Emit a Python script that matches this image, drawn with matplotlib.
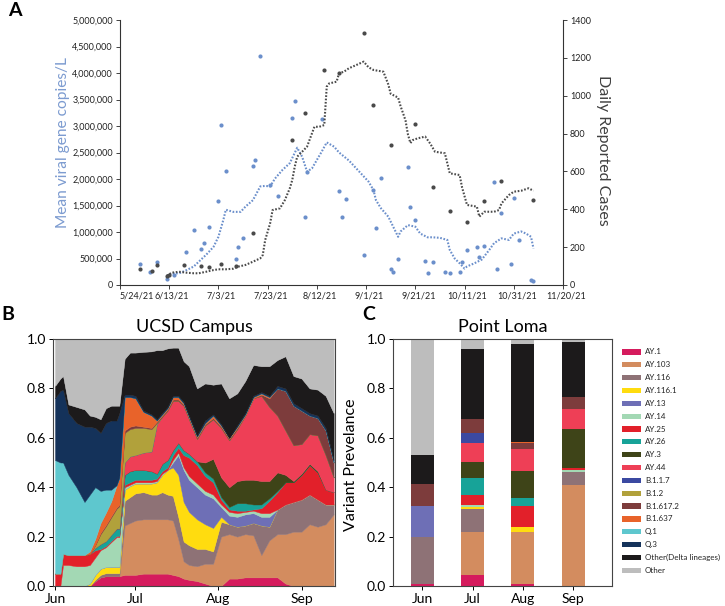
import numpy as np
import pandas as pd
import matplotlib
matplotlib.use('Agg')
import matplotlib.pyplot as plt
import matplotlib.transforms as mtrans
from matplotlib.patches import Rectangle
from matplotlib.ticker import FuncFormatter

plt.rcParams['font.family'] = ['Lato', 'DejaVu Sans']

# ---------------- Panel A data (days since 5/24/21) ----------------
start_a = pd.Timestamp('2021-05-24')

ww_days = [8, 12, 15, 19, 22, 27, 30, 33, 34, 36, 40, 41, 43, 47, 48, 50, 54, 55, 57, 61,
           64, 70, 71, 75, 76, 82, 89, 90, 92, 99, 103, 104, 106, 110, 111, 113, 117, 118,
           120, 124, 125, 127, 132, 134, 138, 139, 141, 145, 146, 148, 152, 153, 155, 159,
           160, 162, 167, 168]
ww_copies = [0.40, 0.25, 0.44, 0.11, 0.18, 0.62, 1.04, 0.68, 0.79, 1.09, 1.59, 3.01, 2.16,
             0.50, 0.72, 0.89, 2.25, 2.35, 4.33, 1.89, 1.67, 3.16, 3.48, 1.28, 2.14, 3.14,
             1.77, 1.28, 1.62, 0.57, 1.79, 1.07, 2.01, 0.31, 0.24, 0.50, 2.23, 1.48, 1.23,
             0.45, 0.22, 0.44, 0.25, 0.22, 0.25, 0.43, 0.66, 0.71, 0.53, 0.74, 1.94, 0.31,
             1.36, 0.39, 1.64, 0.85, 0.09, 0.08]  # millions

ww_avg_days = [19, 21, 24, 27, 30, 32, 35, 38, 40, 42, 43, 46, 49, 51, 54, 57, 59, 61, 63,
               66, 69, 72, 74, 76, 78, 80, 82, 84, 87, 89, 93, 97, 101, 103, 104, 106, 109,
               111, 113, 114, 117, 120, 122, 125, 127, 130, 133, 134, 136, 138, 140, 141,
               144, 147, 150, 152, 155, 158, 160, 163, 165, 167, 168]
ww_avg = [0.17, 0.22, 0.22, 0.28, 0.35, 0.44, 0.57, 0.72, 0.91, 1.23, 1.42, 1.38, 1.38, 1.48,
          1.60, 1.86, 1.87, 1.86, 2.01, 2.17, 2.30, 2.59, 2.42, 2.14, 2.20, 2.36, 2.52, 2.69,
          2.61, 2.50, 2.35, 2.15, 1.95, 1.79, 1.60, 1.45, 1.29, 1.10, 0.91, 1.01, 1.13, 1.10,
          0.97, 0.90, 0.90, 0.89, 0.85, 0.66, 0.50, 0.41, 0.31, 0.35, 0.41, 0.48, 0.66, 0.79,
          0.88, 0.85, 0.97, 1.01, 0.97, 0.91, 0.69]  # millions

case_days = [8, 13, 15, 19, 20, 26, 33, 36, 41, 47, 54, 70, 75, 83, 89, 99, 103, 110, 120,
             127, 134, 141, 148, 155, 168]
cases = [86, 72, 106, 48, 51, 106, 102, 97, 111, 102, 273, 766, 910, 1136, 1118, 1330, 951,
         738, 851, 516, 389, 333, 442, 549, 447]

case_avg_days = [19, 21, 24, 27, 30, 32, 35, 38, 40, 43, 46, 48, 51, 54, 57, 58, 59, 61, 62,
                 65, 67, 69, 70, 71, 72, 74, 76, 78, 79, 81, 83, 84, 85, 88, 89, 91, 93, 96,
                 99, 101, 103, 107, 109, 110, 113, 114, 116, 117, 118, 119, 121, 124, 126,
                 128, 132, 134, 138, 139, 141, 145, 146, 148, 152, 154, 155, 158, 160, 163,
                 166, 168]
case_avg = [48, 65, 70, 65, 62, 62, 70, 79, 83, 83, 86, 97, 106, 123, 141, 158, 238, 326, 396,
            405, 449, 511, 555, 625, 678, 704, 731, 801, 836, 836, 845, 1048, 1065, 1074, 1118,
            1127, 1145, 1162, 1180, 1150, 1136, 1127, 1060, 1010, 990, 945, 870, 795, 750, 766,
            775, 784, 748, 704, 696, 590, 581, 515, 423, 414, 361, 387, 387, 396, 431, 475, 493,
            498, 511, 498]

# ---------------- Panel B data (days since 6/1/21) ----------------
b_days = [0, 2, 3, 5, 8, 11, 13, 15, 17, 19, 21, 23, 24, 26, 28, 30, 33, 36, 38, 40, 42, 44,
          46, 48, 50, 53, 56, 59, 62, 65, 68, 71, 74, 77, 80, 83, 86, 89, 92, 95, 98, 101, 104]

b_ay1 = [0, 0, 0, 0, 0, 0, 0, .02, .035, .04, .04, .04, .04, .045, .045, .045, .05, .05, .05,
         .05, .05, .045, .04, .03, .025, .02, .01, 0, 0, .03, .03, .035, .035, .035, .035, .035,
         .01, 0, 0, 0, 0, 0, 0]
b_ay103 = [0] * 13 + [.2, .21, .22, .22, .22, .22, .22, .22, .22, .15, .07, .06, .06, .08, .09,
                      .20, .18, .17, .175, .17, .09, .15, .175, .2, .22, .22, .25, .24, .25, .29]
b_ay116 = [0] * 7 + [.005, .01, .012, .012, .012, .012, .1, .105, .11, .11, .1, .1, .11, .1, .1,
                     .09, .08, .08, .07, .06, .05, .06, .04, .04, .035, .05, .12, .055, .10, .12,
                     .12, .13, .12, .11, .08, .04]
b_ay116_1 = [0] * 6 + [.01, .02, .025, .025, .026, .026, .026, .045, .045, .04, .035, .045, .05,
                       .07, .1, .115, .17, .16, .135, .12, .1, .095, .02] + [0] * 14
b_ay13 = [0] * 21 + [.02, .08, .13, .13, .13, .12, .12, .04, .035, .04, .045, .04, .035,
                     .04] + [0] * 8
b_ay14 = [0, 0, .085, .085, .08, .08, .075, .07, .075, .08, .1, .12, .12, .01, .005, .005, .005,
          .005, .005, .005, 0, .01, .01, .01, .015, .015, .015, .015, .01, .015, .015, .01, .01,
          .015, .015] + [0] * 8
b_ay25 = [.05, .05, .045, .04, .045, .045, .045, .03, .005, .005, .005, .005, .005, .01, .01,
          .01, .01, .01, .01, .01, .01, .02, .02, .05, .075, .075, .06, .05, .02, .01, .01, .005,
          .005, .02, .05, .07, .09, .08, .1, .12, .11, .06, .05]
b_ay26 = [0] * 7 + [.01, .02, .02, .025, .03, .03, .04, .045, .04, .04, .035, .02, .03, .03, .02,
                    .02, .02, .015, .015, .015, .015, .01, .01, .03, .03, .02, .015, .01,
                    .005] + [0] * 7
b_ay3 = [0] * 26 + [.04, .08, .08, .08, .09, .095, .1, .095, .07, .075, .03, .005, .005, .005,
                    .005, 0, 0]
b_ay44 = [0] * 13 + [.05, .06, .06, .07, .08, .2, .19, .2, .2, .17, .18, .14, .09, .15, .16, .2,
                     .19, .21, .26, .33, .345, .3, .23, .18, .145, .12, .12, .145, .14, .06]
b_b117 = [0] * 43
b_b12 = [0] * 7 + [.01, .04, .06, .07, .08, .09, .12, .11, .11, .1, .09, .005] + [0] * 24
b_b16172 = [0] * 8 + [.005, .005, .005, .005, .005, .01, .01, .01, .005, .005, .005, .005, .005,
                      .005, .005, .005, .005, .005, .005, .005, .005, .005, .005, 0, 0, .005,
                      .035, .11, .16, .16, .135, .075, .07, .10, .06]
b_b1637 = [0] * 6 + [.01, .025, .04, .05, .06, .09, .11, .135, .12, .11, .06, .05, .005, .005,
                     .005, .01, .01, .005, .005, .005, .005, .01, .005, .005, .005, .005, .005,
                     .005, .005] + [0] * 8
b_q1 = [.46, .45, .37, .325, .275, .215, .23, .21, .13, .093, .047, 0] + [0] * 31
b_q3 = [.25, .29, .295, .25, .26, .305, .275, .24, .235, .27, .28, .262, .262, .01, .01, .01,
        .005, .005, .005, .005, .005, .005, .005, .005, .005, .005, .01, .005, .005, 0, .005,
        .005, .005, .005, .005, .01, .01, .01, .01, .01, .01, .01, .01]
b_delta_other = [.05, .05, .055, .035, .065, .07, .045, .045, .055, .06, .06, .06, .03, .145,
                 .17, .175, .238, .255, .28, .255, .237, .195, .195, .165, .20, .19, .15, .12,
                 .165, .16, .13, .13, .125, .105, .12, .105, .13, .11, .12, .10, .105, .13, .19]

# ---------------- Panel C data (monthly prevalence, Point Loma) ----------------
c_months = ['Jun', 'Jul', 'Aug', 'Sep']
c_ay1 = [.01, .045, .01, 0]
c_ay103 = [0, .172, .209, .41]
c_ay116 = [.19, .093, 0, .051]
c_ay116_1 = [0, .008, .018, 0]
c_ay13 = [.125, 0, 0, 0]
c_ay14 = [0, .01, 0, .007]
c_ay25 = [0, .041, .088, .01]
c_ay26 = [0, .067, .033, 0]
c_ay3 = [0, .066, .108, .158]
c_ay44 = [0, .076, .087, .082]
c_b117 = [0, .042, 0, 0]
c_b12 = [0, 0, 0, 0]
c_b16172 = [.088, .057, .025, .047]
c_b1637 = [0, 0, .007, 0]
c_q1 = [0, 0, 0, 0]
c_q3 = [0, 0, 0, 0]
c_delta_other = [.117, .282, .395, .221]

lineages = ['AY.1', 'AY.103', 'AY.116', 'AY.116.1', 'AY.13', 'AY.14', 'AY.25', 'AY.26', 'AY.3',
            'AY.44', 'B.1.1.7', 'B.1.2', 'B.1.617.2', 'B.1.637', 'Q.1', 'Q.3',
            'Other(Delta lineages)', 'Other']
lineage_colors = ['#d51b5d', '#d38c5f', '#8e7276', '#ffdc0f', '#6e6fb6', '#a3d8b4', '#e2202a',
                  '#17a398', '#3e4418', '#ee3f56', '#3b49a1', '#b1a13b', '#7d3c3c', '#e8632a',
                  '#5ec7ce', '#14325a', '#1c1a1b', '#bdbdbd']

# ---------------- Figure ----------------
W, H = 725, 606
fig = plt.figure(figsize=(W / 100, H / 100), dpi=100)


def fbox(x0, y0, x1, y1):
    return [x0 / W, 1 - y1 / H, (x1 - x0) / W, (y1 - y0) / H]


blue = '#6b8fcb'
dark = '#4a4a4a'

# Panel A
axA = fig.add_axes(fbox(120, 20, 563, 285))
axA2 = axA.twinx()
axA.scatter(ww_days, np.array(ww_copies) * 1e6, s=9, color=blue, zorder=3, linewidths=0)
axA.plot(ww_avg_days, np.array(ww_avg) * 1e6, color=blue, lw=1.5,
         linestyle=(0, (0.8, 0.8)), dash_capstyle='butt', zorder=2)
axA2.scatter(case_days, cases, s=9, color=dark, zorder=3, linewidths=0)
axA2.plot(case_avg_days, case_avg, color=dark, lw=1.5,
          linestyle=(0, (0.8, 0.8)), dash_capstyle='butt', zorder=2)

axA.set_xlim(0, 180)
axA.set_ylim(0, 5e6)
axA2.set_ylim(0, 1400)
axA.set_yticks(np.arange(0, 5e6 + 1, 5e5))
axA.yaxis.set_major_formatter(FuncFormatter(lambda v, p: f'{v:,.0f}'))
axA2.set_yticks(np.arange(0, 1401, 200))
xt = np.arange(0, 181, 20)
axA.set_xticks(xt)
labs = [f'{d.month}/{d.day}/{d.strftime("%y")}' for d in (start_a + pd.to_timedelta(xt, unit='D'))]
axA.set_xticklabels(labs)
for a in (axA, axA2):
    a.spines['top'].set_visible(False)
    for s in a.spines.values():
        s.set_color('#333333')
        s.set_linewidth(0.8)
    a.tick_params(labelsize=6.5, length=3, width=0.6, colors='#222222', pad=2)
axA.spines['right'].set_visible(False)
axA2.spines['left'].set_visible(False)
axA2.spines['bottom'].set_visible(False)
# Excel-like label placement: first one starts at the axis, the rest sit a little right
shift = mtrans.ScaledTranslation(3 / 100, 0, fig.dpi_scale_trans)
for i, t in enumerate(axA.get_xticklabels()):
    if i == 0:
        t.set_horizontalalignment('left')
    else:
        t.set_transform(t.get_transform() + shift)

fig.text(63 / W, 1 - 143 / H, 'Mean viral gene copies/L', rotation=90, ha='center', va='center',
         fontsize=11.2, color='#7c9bd0')
fig.text(603 / W, 1 - 150 / H, 'Daily Reported Cases', rotation=270, ha='center', va='center',
         fontsize=11.5, color='#404040')

# Panel B
axB = fig.add_axes(fbox(53, 339, 335, 586))
b_layers = [b_ay1, b_ay103, b_ay116, b_ay116_1, b_ay13, b_ay14, b_ay25, b_ay26, b_ay3, b_ay44,
            b_b117, b_b12, b_b16172, b_b1637, b_q1, b_q3, b_delta_other]
b_rest = np.clip(1 - np.array(b_layers).sum(axis=0), 0, None)
axB.stackplot(b_days, *b_layers, b_rest, colors=lineage_colors, linewidth=0.3, edgecolor='face')
axB.set_xlim(-0.75, 104.5)
axB.set_ylim(0, 1)
axB.set_xticks([0, 30, 61, 92])
axB.set_xticklabels(['Jun', 'Jul', 'Aug', 'Sep'])
axB.set_yticks(np.arange(0, 1.01, 0.2))
axB.set_yticklabels([f'{v:.1f}' for v in np.arange(0, 1.01, 0.2)])
axB.tick_params(labelsize=10, length=3, width=0.7, pad=2)
axB.set_title('UCSD Campus', fontsize=13, pad=5)

# Panel C
axC = fig.add_axes(fbox(393, 339, 612, 586))
c_layers = [c_ay1, c_ay103, c_ay116, c_ay116_1, c_ay13, c_ay14, c_ay25, c_ay26, c_ay3, c_ay44,
            c_b117, c_b12, c_b16172, c_b1637, c_q1, c_q3, c_delta_other]
c_rest = np.clip(1 - np.array(c_layers).sum(axis=0), 0, None)
xpos = np.arange(len(c_months))
bottom = np.zeros(len(c_months))
for vals, col in zip(c_layers + [c_rest], lineage_colors):
    axC.bar(xpos, vals, bottom=bottom, width=0.46, color=col, linewidth=0)
    bottom += np.array(vals)
axC.set_xlim(-0.58, 3.77)
axC.set_ylim(0, 1)
axC.set_xticks(xpos)
axC.set_xticklabels(c_months)
axC.set_yticks(np.arange(0, 1.01, 0.2))
axC.set_yticklabels([f'{v:.1f}' for v in np.arange(0, 1.01, 0.2)])
axC.tick_params(labelsize=10, length=3, width=0.7, pad=2)
axC.set_title('Point Loma', fontsize=13, pad=5)
fig.text(351 / W, 1 - 465 / H, 'Variant Prevelance', rotation=90, ha='center', va='center',
         fontsize=11.5)
for a in (axB, axC):
    for s in a.spines.values():
        s.set_color('#444444')
        s.set_linewidth(0.8)

# legend, drawn by hand to the right of panel C
for i, (lab, col) in enumerate(zip(lineages, lineage_colors)):
    yc = 352 + i * 12.84
    fig.add_artist(Rectangle((622 / W, 1 - (yc + 2.6) / H), 19 / W, 5.2 / H,
                             transform=fig.transFigure, color=col, lw=0))
    fig.text(645 / W, 1 - yc / H, lab, fontsize=5.8, va='center', ha='left', color='#222222')

# panel letters
fig.text(8 / W, 1 - 10 / H, 'A', fontsize=14, fontweight='bold', va='center')
fig.text(1 / W, 1 - 315 / H, 'B', fontsize=14, fontweight='bold', va='center')
fig.text(362 / W, 1 - 315 / H, 'C', fontsize=14, fontweight='bold', va='center')

fig.savefig('out.png', dpi=100)
